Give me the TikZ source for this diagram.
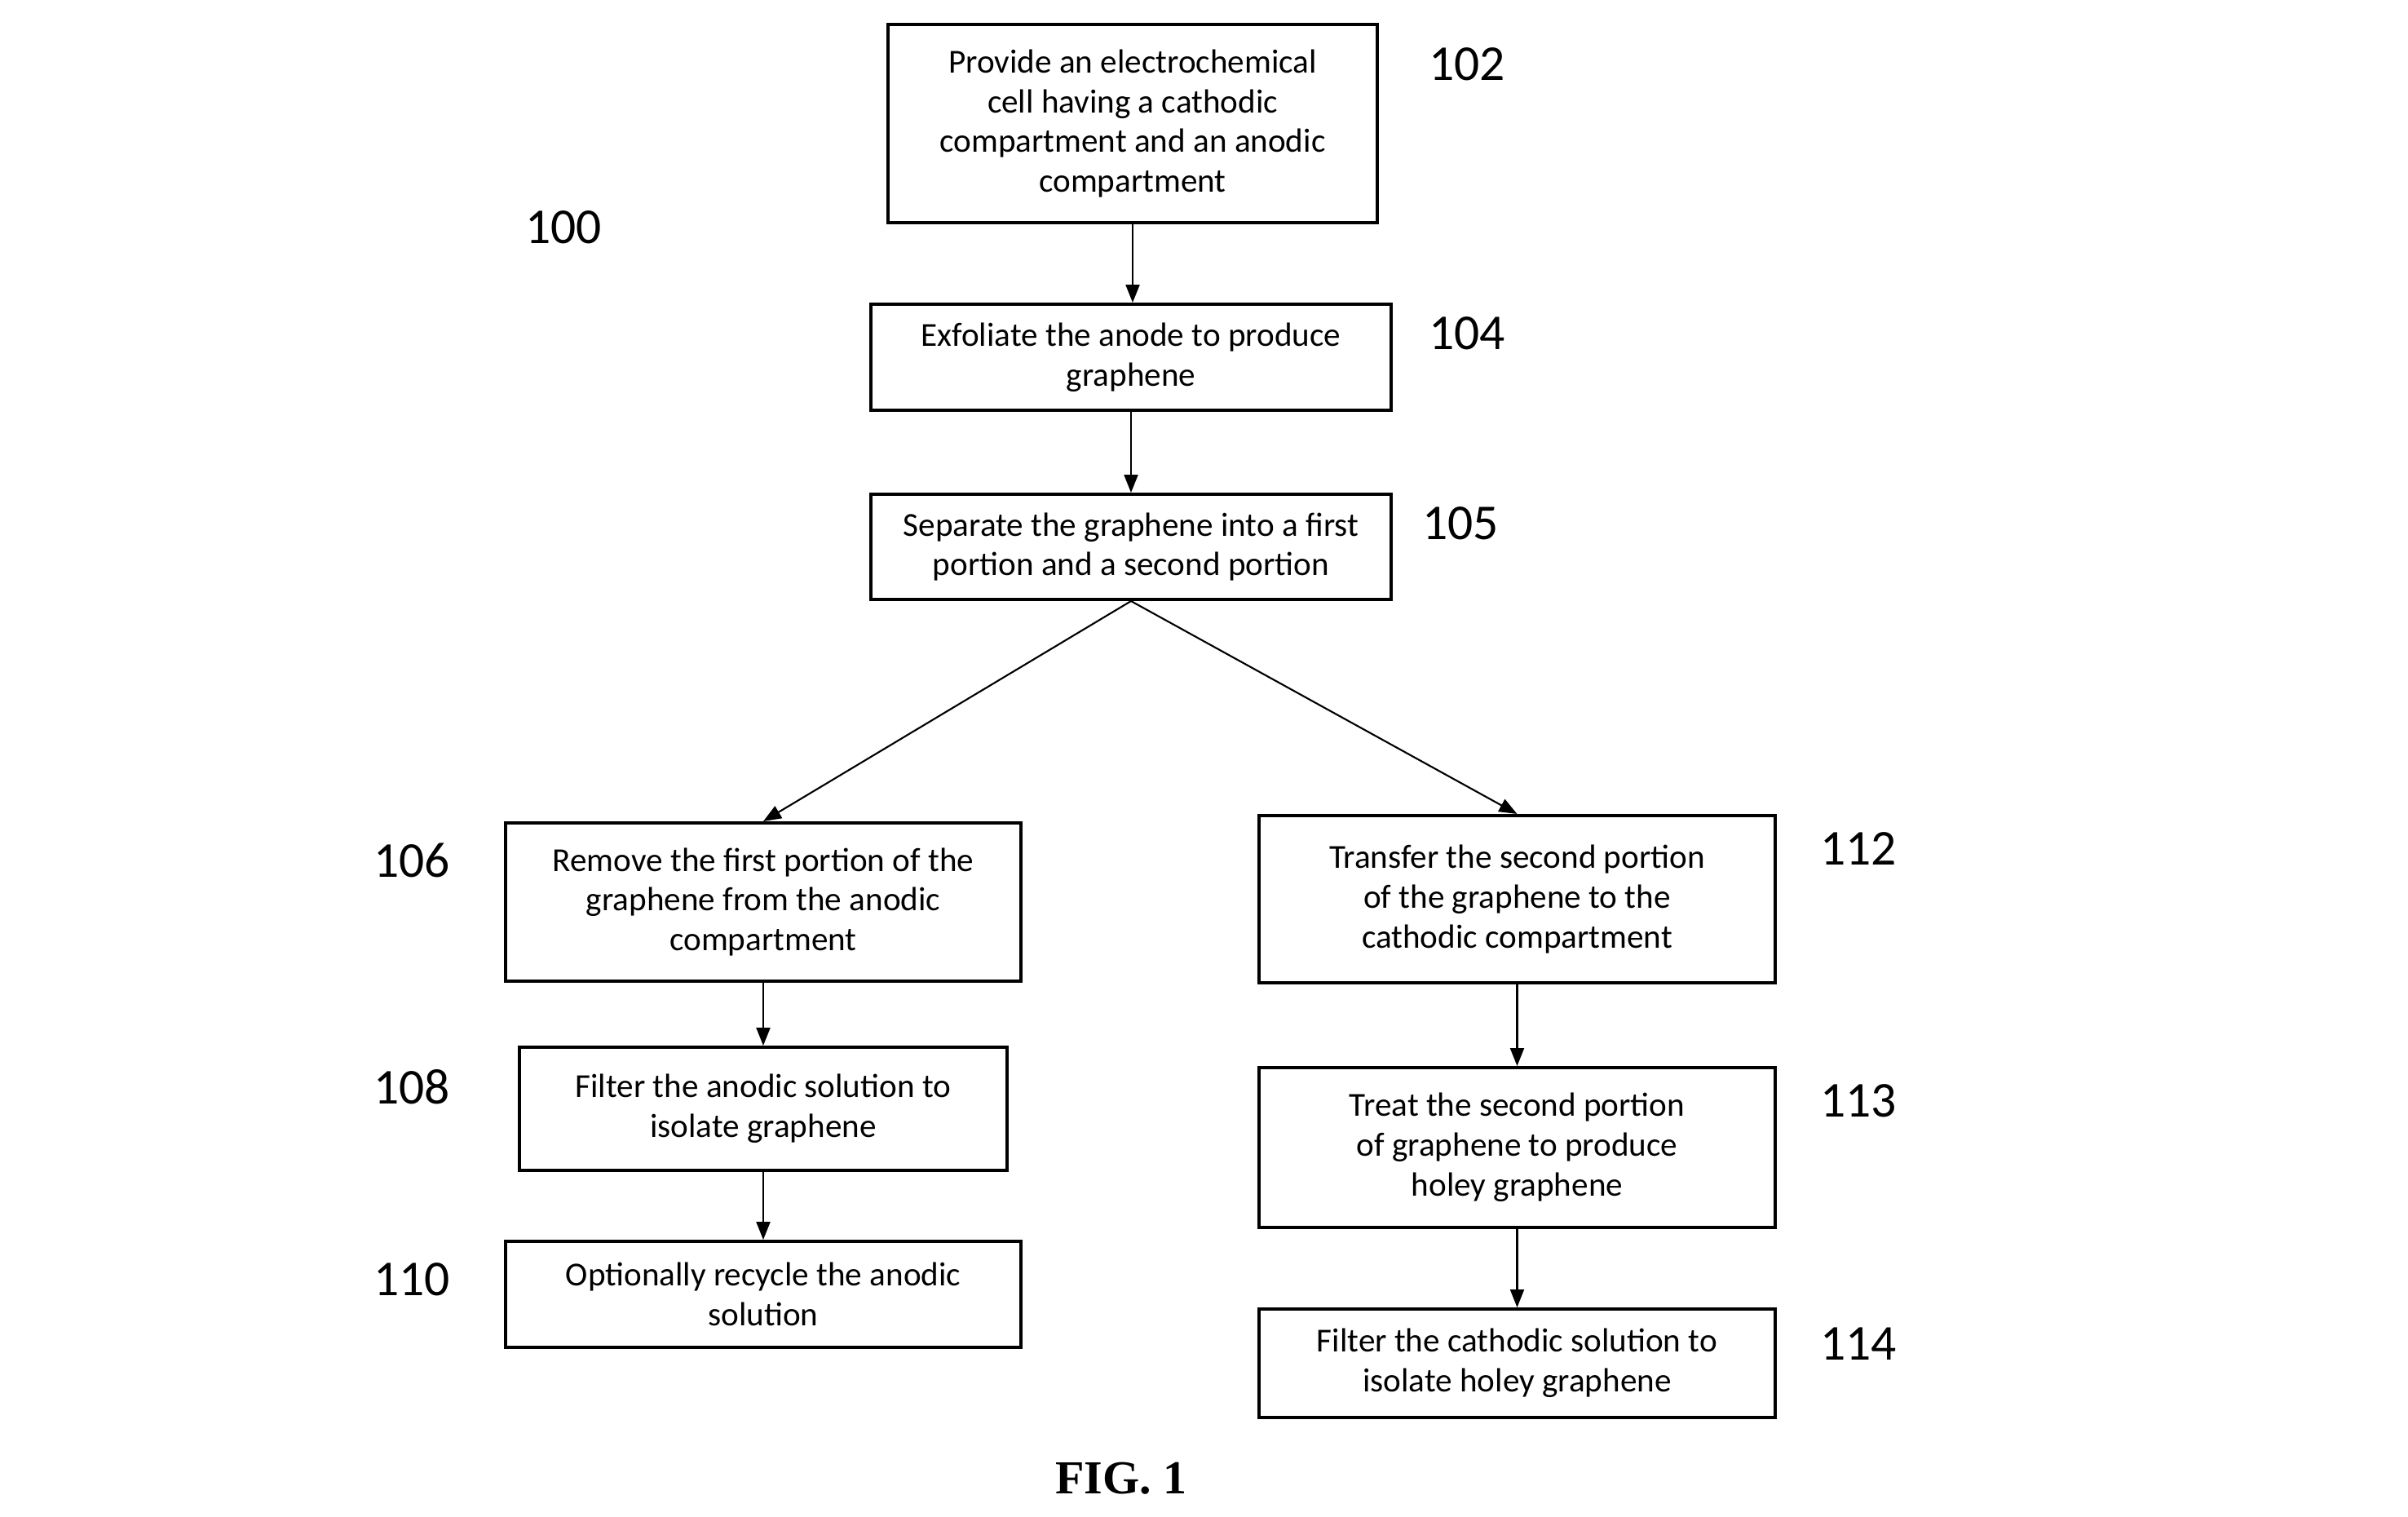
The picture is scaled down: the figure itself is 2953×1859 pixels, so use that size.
\documentclass[tikz,border=0pt]{standalone}
\usepackage{fontspec}
\setmainfont{Carlito}
\newfontfamily\figfont{Liberation Serif}
\usetikzlibrary{arrows.meta}
\begin{document}
\begin{tikzpicture}[x=0.01cm,y=-0.01cm,
  box/.style={draw, line width=1.1pt, align=center, inner sep=0pt,
    font=\fontsize{11.7}{13.9}\selectfont},
  num/.style={font=\fontsize{17.5}{21}\selectfont},
  conn/.style={line width=0.6pt, -{Triangle[length=0.22cm,width=0.17cm]}}]
\useasboundingbox (0,0) rectangle (2953,1859);
\node[box, minimum width=6cm, minimum height=2.43cm] (b102) at (1389,151.5)
  {Provide an electrochemical\\cell having a cathodic\\compartment and an anodic\\compartment};
\node[box, minimum width=6.38cm, minimum height=1.30cm] (b104) at (1387,438)
  {Exfoliate the anode to produce\\graphene};
\node[box, minimum width=6.38cm, minimum height=1.29cm] (b105) at (1387,670.5)
  {Separate the graphene into a first\\portion and a second portion};
\node[box, minimum width=6.32cm, minimum height=1.94cm] (b106) at (936,1106)
  {Remove the first portion of the\\graphene from the anodic\\compartment};
\node[box, minimum width=5.98cm, minimum height=1.51cm] (b108) at (936,1359.5)
  {Filter the anodic solution to\\isolate graphene};
\node[box, minimum width=6.32cm, minimum height=1.30cm] (b110) at (936,1587)
  {Optionally recycle the anodic\\solution};
\node[box, minimum width=6.33cm, minimum height=2.05cm] (b112) at (1860.5,1102.5)
  {Transfer the second portion\\of the graphene to the\\cathodic compartment};
\node[box, minimum width=6.33cm, minimum height=1.96cm] (b113) at (1860.5,1407)
  {Treat the second portion\\of graphene to produce\\holey graphene};
\node[box, minimum width=6.33cm, minimum height=1.33cm] (b114) at (1860.5,1671.5)
  {Filter the cathodic solution to\\isolate holey graphene};

\node[num] (n100) at (691,279) {100};
\node[num] (n102) at (1799,79) {102};
\node[num] (n104) at (1799,409) {104};
\node[num] (n105) at (1791,642) {105};
\node[num] (n106) at (505,1055) {106};
\node[num] (n108) at (505,1333) {108};
\node[num] (n110) at (505,1569) {110};
\node[num] (n112) at (2279,1041) {112};
\node[num] (n113) at (2279,1350) {113};
\node[num] (n114) at (2279,1648) {114};

\node[font=\figfont\bfseries\fontsize{16.5}{20}\selectfont] (fig) at (1375,1813) {FIG. 1};

\draw[conn] (b102.south) -- (b102.south |- b104.north);
\draw[conn] (b104.south) -- (b105.north);
\draw[conn] (b105.south) -- (b106.north);
\draw[conn] (b105.south) -- (b112.north);
\draw[conn] (b106.south) -- (b108.north);
\draw[conn] (b108.south) -- (b110.north);
\draw[conn] (b112.south) -- (b113.north);
\draw[conn] (b113.south) -- (b114.north);
\end{tikzpicture}
\end{document}
